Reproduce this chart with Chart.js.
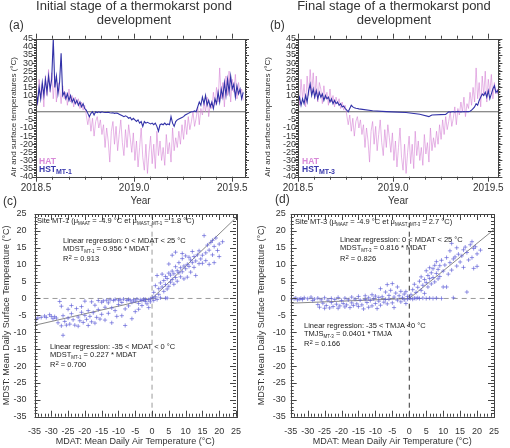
<!DOCTYPE html>
<html>
<head>
<meta charset="utf-8">
<script src="https://cdn.jsdelivr.net/npm/chart.js@4.4.1/dist/chart.umd.min.js"></script>
<style>
  body { margin: 0; width: 510px; height: 448px; position: relative; background: #fff; overflow: hidden;
         font-family: "Liberation Sans", Arial, sans-serif; color: #333; }
  canvas { position: absolute; }
  .t { position: absolute; white-space: nowrap; }
  .ttl { font-size: 13px; line-height: 14px; text-align: center; transform: translateX(-50%); color: #333; }
  .pl { font-size: 12px; line-height: 13px; color: #333; }
  .lg { font-size: 8.5px; line-height: 10px; font-weight: bold; }
  .lg sub { font-size: 7px; vertical-align: -2px; }
  .an { font-size: 7.5px; line-height: 9px; color: #222; }
  .an sub { font-size: 4.5px; vertical-align: -1.5px; }
  .an sup { font-size: 6px; vertical-align: 2.5px; line-height: 0; }
</style>
</head>
<body>
<canvas id="chartA" width="255" height="215" style="left:0;top:0"></canvas>
<canvas id="chartB" width="255" height="215" style="left:255px;top:0"></canvas>
<canvas id="chartC" width="255" height="248" style="left:0;top:200px"></canvas>
<canvas id="chartD" width="255" height="248" style="left:255px;top:200px"></canvas>

<div class="t ttl" style="left:134px;top:-1px">Initial stage of a thermokarst pond<br>development</div>
<div class="t ttl" style="left:394px;top:-1px">Final stage of a thermokarst pond<br>development</div>
<div class="t pl" style="left:9px;top:18.5px">(a)</div>
<div class="t pl" style="left:270px;top:18.5px">(b)</div>
<div class="t pl" style="left:3px;top:194.5px">(c)</div>
<div class="t pl" style="left:275px;top:192.5px">(d)</div>

<div class="t lg" style="left:39px;top:156px;color:#d88ad8">HAT</div>
<div class="t lg" style="left:39px;top:164px;color:#3838ac">HST<sub>MT-1</sub></div>
<div class="t lg" style="left:302px;top:156px;color:#d88ad8">HAT</div>
<div class="t lg" style="left:302px;top:164px;color:#3838ac">HST<sub>MT-3</sub></div>

<div class="t an" style="left:37px;top:216px">Site MT-1 (μ<sub>MAAT</sub> = -4.9 °C et μ<sub>MAST_MT-1</sub> = 1.8 °C)</div>
<div class="t an" style="left:63px;top:235.5px">Linear regression: 0 &lt; MDAT &lt; 25 °C</div>
<div class="t an" style="left:63px;top:244px">MDST<sub>MT-1</sub> = 0.956 * MDAT</div>
<div class="t an" style="left:63px;top:254px">R<sup>2</sup> = 0.913</div>
<div class="t an" style="left:50px;top:341.5px">Linear regression: -35 &lt; MDAT &lt; 0 °C</div>
<div class="t an" style="left:50px;top:350px">MDST<sub>MT-1</sub> = 0.227 * MDAT</div>
<div class="t an" style="left:50px;top:360px">R<sup>2</sup> = 0.700</div>

<div class="t an" style="left:295px;top:217px">Site MT-3 (μ<sub>MAAT</sub> = -4.9 °C et μ<sub>MAST_MT-3</sub> = 2.7 °C)</div>
<div class="t an" style="left:340px;top:234.5px">Linear regression: 0 &lt; MDAT &lt; 25 °C</div>
<div class="t an" style="left:340px;top:243px">MDST<sub>MT-3</sub> = 0.816 * MDAT</div>
<div class="t an" style="left:340px;top:253.5px">R<sup>2</sup> = 0.826</div>
<div class="t an" style="left:304px;top:320.5px">Linear regression: -35 &lt; TMJA &lt;0 °C</div>
<div class="t an" style="left:304px;top:329px">TMJS<sub>MT-3</sub> = 0.0401 * TMJA</div>
<div class="t an" style="left:304px;top:339px">R<sup>2</sup> = 0.166</div>

<script>
// sampling step of the time series, in years (~3 days), starting at 2018.5
const STEP = 0.008;

// air temperature (HAT), same station for both sites
const HAT = [
  14, 4, 20, 8, 17, 3, 22,
  10, 26, 12, 24, 8, 22, 6, 18, 14,
  5, 16, 8, 12, 4, 14, 6, 10, 3, 9,
  5, 8, 2, 6, 1, 4, -2,
  -8, -2, -12, -4, -15, -6, -3, -10, -5,
  -14, -8, -22, -10, -18, -31, -12, -6, -20,
  -9, -24, -14, -5, -19, -27, -11, -22, -8, -16, -25,
  -13, -30, -18, -34, -22, -10, -28, -36, -20, -38,
  -25, -15, -32, -20, -35, -12, -27, -18, -30, -22,
  -33, -14, -26, -19, -31, -10, -24, -16, -22, -12,
  -20, -8, -17, -5, -14, -3, -11, -6, 0, -9,
  -4, 3, -8, 2, -2, 6, 0, 9, -3, 5,
  2, 12, 4, 15, 6, 27, 8, 18, 3, 22,
  10, 25, 6, 20, 12, 23, 8, 18, 11, 14, 7
];

// surface temperature, site MT-1
const HST_MT1 = [
  12, 6, 15, 8, 18, 10, 20,
  12, 22, 14, 20, 45, 15, 22, 11, 18, 36,
  10, 12, 8, 11, 7, 10, 6, 8, 5,
  7, 4, 6, 3, 5, 2, 1,
  -1, -3, -1, 0, -2, 0, -0.5, 0, -0.5,
  0, -0.3, -0.5, -0.5, -0.3, -0.6, -0.8, -0.6, -1, -0.8, -1, -1.5, -2, -2.5, -3, -2.5, -3, -4, -3.5, -5,
  -4, -5, -6, -5, -7, -6, -9, -6, -7, -6.5,
  -7, -7.5, -7, -8, -7, -9, -12, -8, -7.5, -8,
  -7, -8, -7.5, -8, -3, -7, -9, -6, -5, -4.5,
  -4, -3.5, -3, -2, -1.5, -1, -0.5, 0, 0, 0.5,
  0, 3, 6, 4, 9, 5, 10, 4, 7, 3,
  6, 2, 8, 5, 12, 6, 14, 9, 18, 10,
  20, 12, 22, 14, 17, 9, 16, 11, 14, 8, 12
];

// surface temperature, site MT-3 (sparse readings in winter)
const HST_MT3 = [
  6, 9, 4, 8, 5, 10, 6, 13, 17, 10, 14, 9, 13, 8, 12, 9, 11, 7, 10, 8, 9, 6, 8, 5, 7, 5, 6, 4, 5, 3, 3.5, 2, 1,
  0, 2, 4, 3, 2.5, 2.2, 2, 1.8,
  null, null, null, null, null, null, null, null,
  0.6,
  null, null, null, null, null, null, null, null,
  0.1,
  null, null, null, null, null, null, null, null, null, null, null, null,
  -0.5,
  null, null, null, null, null, null, null, null,
  -1.5,
  null, null, null, null, null,
  -3, -2.5, -2,
  null, null, null, null, null, null, null, null,
  -1.6, -0.8,
  0, -0.2, 0, 0.1, -0.1, 0, 0.2, 0, -0.1, 0, 0.1, 0, 0.2, 0.1, 0.3,
  1, 2, 3, 5, 4,
  7, 9, 11, 10, 12, 9, 13, 8, 11, 14, 16, 12, 13, 10
];

const YEAR_TICKS = [2018.5, 2019.0, 2019.5];
const TEMP_TICKS = [-40, -35, -30, -25, -20, -15, -10, -5, 0, 5, 10, 15, 20, 25, 30, 35, 40, 45];
const MDAT_TICKS = [-35, -30, -25, -20, -15, -10, -5, 0, 5, 10, 15, 20, 25];
const MDST_TICKS = [-35, -30, -25, -20, -15, -10, -5, 0, 5, 10, 15, 20, 25];

// regression slopes [0 < MDAT < 25, -35 < MDAT < 0]
const SLOPE_MT1 = [0.956, 0.227];
const SLOPE_MT3 = [0.816, 0.0401];

// daily means [MDAT, MDST], site MT-1
const PTS_MT1 = [
  [-34.5,-6.2],[-34,-5.8],[-33,-5.6],[-32,-5.2],[-31.5,-5.6],[-30.5,-4.8],[-30,-5.3],[-29.5,-6.0],[-29,-5.4],[-28.5,-5.8],
  [-28,-7.2],[-27.5,-0.9],[-27,-2.3],[-27,-8.1],[-26.5,-10.9],[-26.5,-5.1],[-26,-6.8],[-25.5,-7.9],[-25,-3.2],[-25,-5.8],
  [-24.5,-7.6],[-24,-2.1],[-24,-4.5],[-23.5,-6.3],[-23,-7.9],[-22.5,-3.0],[-22,-5.5],[-22,-8.2],[-21.5,-6.6],[-21,-2.4],
  [-21,-4.1],[-20.5,-7.1],[-20,-0.8],[-20,-5.0],[-19.5,-6.2],[-19,-3.6],[-19,-8.0],[-18.5,-5.3],[-18,-1.0],[-18,-6.9],
  [-17.5,-4.2],[-17,-2.0],[-17,-7.3],[-16.5,-5.6],[-16,-0.6],[-16,-3.3],[-15.5,-6.1],[-15,-1.1],[-15,-4.7],[-14.5,-0.7],
  [-14,-2.6],[-14,-6.4],[-13.5,-0.5],[-13,-1.3],[-13,-4.4],[-12.5,-0.4],[-12,-2.8],[-12,-7.2],[-11.5,-0.6],[-11,-0.3],
  [-11,-3.6],[-10.5,-5.3],[-10,-0.5],[-10,-1.8],[-9.5,-0.4],[-9,-1.2],[-9,-5.1],[-8.5,-0.2],[-8,-3.1],[-8,-8.0],
  [-7.5,-0.6],[-7,-0.3],[-7,-2.2],[-6.5,-0.5],[-6,-1.1],[-6,-6.0],[-5.5,-0.4],[-5,-0.8],[-5,-3.9],[-4.5,-0.2],
  [-4,-1.5],[-4,-3.2],[-3.5,-0.4],[-3,-0.6],[-3,-2.1],[-2.5,-0.2],[-2,-0.9],[-2,-0.3],[-1.5,-1.6],[-1,-0.4],
  [-1,-2.7],[-0.5,-0.1],[-0.5,-1.0],
  [0.2,0.3],[0.5,1.8],[0.5,-0.6],[1,0.5],[1,3.8],[1.5,-0.3],[1.5,6.8],[2,1.2],[2,2.9],[2.5,0.2],
  [2.5,4.6],[3,3.4],[3,7.2],[3.5,2.1],[3.5,5.3],[4,0.1],[4,4.1],[4,6.5],[4.5,2.8],[4.5,5.9],
  [4.5,0.1],[5,3.6],[5,7.5],[5,10.2],[5.5,4.8],[5.5,6.9],[6,5.6],[6,8.1],[6,12.8],[6.5,4.2],
  [6.5,7.3],[7,6.2],[7,9.4],[7,13.7],[7.5,5.1],[7.5,8.2],[8,7.6],[8,10.6],[8.5,6.4],[8.5,9.1],
  [9,7.9],[9,11.8],[9,13.3],[9.5,5.8],[9.5,9.6],[10,8.8],[10,12.6],[10.5,10.1],[10.5,6.3],[11,9.5],
  [11,12.2],[11.5,7.8],[11.5,11.4],[12,10.6],[12,13.9],[12.5,9.2],[12.5,12.4],[13,11.1],[13,6.8],[13.5,12.9],
  [14,10.3],[14,14.1],[14.5,11.7],[15,12.8],[15,10.4],[15.5,18.6],[16,13.5],[16,11.2],[16.5,15.8],[17,14.3],
  [17,10.1],[17.5,16.6],[18,17.2],[18,12.9],[18.5,10.6],[18.5,15.4],[19,17.9],[19.5,14.2],[20,16.1],[20,12.4],
  [21,16.8]
];

// daily means [MDAT, MDST], site MT-3
const PTS_MT3 = [
  [-35,-0.3],[-34,-0.1],[-33.5,0.1],[-33,-0.4],[-32.5,-0.2],[-32,0.0],[-31.5,-0.3],[-31,0.2],[-30,-0.1],[-29,0.4],
  [-28.5,-0.6],[-28,-0.2],[-27,-1.8],[-27,0.1],[-26.5,-2.6],[-26,-0.4],[-25.5,-1.4],[-25,-2.9],[-25,0.2],[-24.5,-2.1],
  [-24,-0.5],[-23.5,-2.8],[-23,-1.2],[-23,0.0],[-22.5,-2.4],[-22,-0.3],[-21.5,-1.7],[-21,-2.9],[-21,0.3],[-20.5,-2.2],
  [-20,-0.6],[-19.5,-1.5],[-19,-2.5],[-19,0.1],[-18.5,-1.9],[-18,-0.4],[-17.5,-2.7],[-17,-1.3],[-17,0.4],[-16.5,-2.1],
  [-16,-0.2],[-15.5,-1.6],[-15,-2.4],[-15,0.6],[-14.5,-0.5],[-14,-1.9],[-13.5,-3.1],[-13,-0.3],[-13,0.8],[-12.5,-1.2],
  [-12,-2.6],[-12,0.2],[-11.5,-0.6],[-11,1.1],[-11,-2.2],[-10.5,-0.1],[-10,-1.5],[-10,0.7],[-9.5,-3.0],[-9,0.3],
  [-9,-0.8],[-8.5,2.9],[-8.5,-2.0],[-8,0.5],[-7.5,-1.1],[-7,1.9],[-7,-0.3],[-6.5,4.1],[-6.5,-1.6],[-6,0.9],
  [-6,-0.2],[-5.5,2.4],[-5,4.4],[-5,-1.3],[-4.5,0.4],[-4.5,-2.7],[-4,1.6],[-3.5,3.4],[-3.5,-0.5],[-3,0.8],
  [-2.5,2.1],[-2.5,-1.0],[-2,0.2],[-1.5,1.3],[-1.5,-0.4],[-1,2.0],[-1,-1.5],[-0.5,0.6],[-0.5,-0.2],
  [0.3,0.0],[0.5,1.1],[1,-0.2],[1,2.6],[1.5,0.1],[1.5,4.2],[2,0.0],[2,1.8],[2.5,3.3],[2.5,0.2],
  [3,5.1],[3,0.0],[3.5,2.4],[3.5,6.4],[4,0.1],[4,3.9],[4.5,1.5],[4.5,5.6],[5,0.0],[5,4.7],
  [5,8.2],[5.5,3.4],[5.5,6.8],[6,0.1],[6,5.9],[6,9.1],[6.5,4.3],[6.5,7.6],[7,0.0],[7,8.8],
  [7,6.2],[7.5,9.8],[7.5,4.9],[8,0.1],[8,7.4],[8,10.9],[8.5,5.8],[8.5,8.6],[9,9.7],[9,6.5],
  [9.5,0.0],[9.5,11.3],[10,3.4],[10,8.1],[10.5,9.9],[11,3.4],[11,12.1],[11.5,7.2],[12,10.6],[12,14.1],
  [12.5,16.3],[12.5,8.4],[13,0.2],[13,11.7],[13.5,12.3],[14,9.6],[14,15.0],[14.5,13.1],[15,10.8],[15.5,12.6],
  [16,14.4],[16,9.2],[16.5,15.2],[17,1.9],[17,13.6],[17.5,11.4],[18,15.9],[18.5,16.8],[18.5,12.1],[19,8.9],
  [19,14.8],[19.5,15.3],[20,13.2],[20,9.5],[21,14.3]
];

const FONT = '"Liberation Sans", Arial, sans-serif';
const years = HAT.map((_, i) => 2018.5 + i * STEP);
const series = arr => arr.map((v, i) => ({ x: years[i], y: v }));
const range = (a, b, s) => { const r = []; for (let v = a; v <= b + 1e-9; v += s) r.push(v); return r; };
const MONTHS = range(0, 12, 1).map(k => 2018.5 + k / 12);

// frame + tick marks on the four sides (inward or outward)
const boxTicks = {
    id: 'boxTicks',
    afterDatasetsDraw(chart, args, o) {
        const { ctx, chartArea: a, scales: { x, y } } = chart;
        const d = o.inward ? 1 : -1;
        const isMajor = (list, v) => list.some(m => Math.abs(m - v) < 1e-6);
        ctx.save();
        ctx.strokeStyle = '#444';
        ctx.lineWidth = 1;
        ctx.strokeRect(Math.round(a.left) + 0.5, Math.round(a.top) + 0.5, Math.round(a.width), Math.round(a.height));
        ctx.beginPath();
        o.xMinor.forEach(v => {
            const p = Math.round(x.getPixelForValue(v)) + 0.5;
            const len = isMajor(o.xMajor, v) ? o.xLen[0] : o.xLen[1];
            ctx.moveTo(p, a.bottom); ctx.lineTo(p, a.bottom - d * len);
            ctx.moveTo(p, a.top); ctx.lineTo(p, a.top + d * len);
        });
        o.yMinor.forEach(v => {
            const p = Math.round(y.getPixelForValue(v)) + 0.5;
            const len = isMajor(o.yMajor, v) ? o.yLen[0] : o.yLen[1];
            ctx.moveTo(a.left, p); ctx.lineTo(a.left + d * len, p);
            ctx.moveTo(a.right, p); ctx.lineTo(a.right - d * len, p);
        });
        ctx.stroke();
        ctx.restore();
    }
};

function topChart(id, hst, o) {
    return new Chart(document.getElementById(id), {
        type: 'line',
        data: {
            datasets: [
                { data: series(hst), borderColor: '#3232a8', borderWidth: 1.1, pointRadius: 0, spanGaps: true },
                { data: series(HAT), borderColor: 'rgba(212,128,212,0.65)', borderWidth: 0.9, pointRadius: 0 },
                { data: [{ x: 2018.5, y: 0 }, { x: o.xMax, y: 0 }], borderColor: '#666', borderWidth: 1, pointRadius: 0 }
            ]
        },
        options: {
            responsive: false, animation: false, devicePixelRatio: 1,
            layout: { padding: { top: 38.7, right: o.padRight, left: 0, bottom: 0 } },
            plugins: {
                legend: { display: false }, tooltip: { enabled: false },
                boxTicks: { inward: false, xMajor: YEAR_TICKS, xMinor: MONTHS, xLen: [5, 3],
                            yMajor: TEMP_TICKS, yMinor: range(-40, 45, 1), yLen: [4, 2] }
            },
            scales: {
                x: {
                    type: 'linear', min: 2018.5, max: o.xMax,
                    afterBuildTicks: s => { s.ticks = YEAR_TICKS.map(v => ({ value: v })); },
                    afterFit: s => { s.height = 38.3; },
                    grid: { display: false, drawTicks: false }, border: { display: false },
                    ticks: { padding: 6, maxRotation: 0, autoSkip: false, color: '#333',
                             font: { family: FONT, size: 10 }, callback: v => v.toFixed(1) },
                    title: { display: true, text: 'Year', color: '#333', font: { family: FONT, size: 10 }, padding: { bottom: 8 } }
                },
                y: {
                    min: -40, max: 45,
                    afterBuildTicks: s => { s.ticks = TEMP_TICKS.map(v => ({ value: v })); },
                    afterFit: s => { s.width = o.yWidth; },
                    grid: { display: false, drawTicks: false }, border: { display: false },
                    ticks: { padding: o.tickPad, autoSkip: false, color: '#333', font: { family: FONT, size: 9 } },
                    title: { display: true, text: 'Air and surface temperatures (°C)', align: 'start', color: '#333',
                             font: { family: FONT, size: 8 }, padding: { top: o.titlePad } }
                }
            }
        },
        plugins: [boxTicks]
    });
}

function scatterChart(id, pts, slopes, o) {
    const line = (data, color, dash, w) => ({ type: 'line', data, borderColor: color, borderDash: dash,
                                              borderWidth: w, pointRadius: 0, fill: false });
    return new Chart(document.getElementById(id), {
        type: 'scatter',
        data: {
            datasets: [
                { data: pts.map(p => ({ x: p[0], y: p[1] })), pointStyle: 'cross', pointRadius: 2.1,
                  borderColor: 'rgba(95,95,215,0.75)', borderWidth: 0.9 },
                line([{ x: 0, y: 0 }, { x: 25, y: 25 * slopes[0] }], '#555', [], 0.7),
                line([{ x: -35, y: -35 * slopes[1] }, { x: 0, y: 0 }], '#555', [], 0.7),
                line([{ x: -35, y: 0 }, { x: 25, y: 0 }], '#9a9a9a', [5, 4], 1),
                line([{ x: 0, y: -35 }, { x: 0, y: 25 }], o.vColor, [5, 4], 1)
            ]
        },
        options: {
            responsive: false, animation: false, devicePixelRatio: 1,
            layout: { padding: { top: 14, right: o.padRight, left: 0, bottom: 0 } },
            plugins: {
                legend: { display: false }, tooltip: { enabled: false },
                boxTicks: { inward: true, xMajor: MDAT_TICKS, xMinor: range(-35, 25, 1), xLen: [6, 3],
                            yMajor: MDST_TICKS, yMinor: range(-35, 25, 1), yLen: [6, 3] }
            },
            scales: {
                x: {
                    type: 'linear', min: -35, max: 25,
                    afterBuildTicks: s => { s.ticks = MDAT_TICKS.map(v => ({ value: v })); },
                    afterFit: s => { s.height = 31.3; },
                    grid: { display: false, drawTicks: false }, border: { display: false },
                    ticks: { padding: 9, maxRotation: 0, autoSkip: false, color: '#333', font: { family: FONT, size: 9 } },
                    title: { display: true, text: 'MDAT: Mean Daily Air Temperature (°C)', color: '#333',
                             font: { family: FONT, size: 9 }, padding: { bottom: 1 } }
                },
                y: {
                    type: 'linear', min: -35, max: 25,
                    afterBuildTicks: s => { s.ticks = MDST_TICKS.map(v => ({ value: v })); },
                    afterFit: s => { s.width = o.yWidth; },
                    grid: { display: false, drawTicks: false }, border: { display: false },
                    ticks: { padding: o.tickPad, autoSkip: false, color: '#333', font: { family: FONT, size: 9 } },
                    title: { display: true, text: 'MDST: Mean Daily Surface Temperature (°C)', color: '#333',
                             font: { family: FONT, size: 9 }, padding: { top: 1.5 } }
                }
            }
        },
        plugins: [boxTicks]
    });
}

topChart('chartA', HST_MT1, { xMax: 2019.565, padRight: 10, yWidth: 36, tickPad: 3, titlePad: 9 });
topChart('chartB', HST_MT3, { xMax: 2019.553, padRight: 8, yWidth: 43, tickPad: 2, titlePad: 8 });
scatterChart('chartC', PTS_MT1, SLOPE_MT1, { padRight: 19, yWidth: 34.5, tickPad: 8, vColor: '#9a9a9a' });
scatterChart('chartD', PTS_MT3, SLOPE_MT3, { padRight: 16, yWidth: 35.7, tickPad: 5, vColor: '#333' });
</script>
</body>
</html>
